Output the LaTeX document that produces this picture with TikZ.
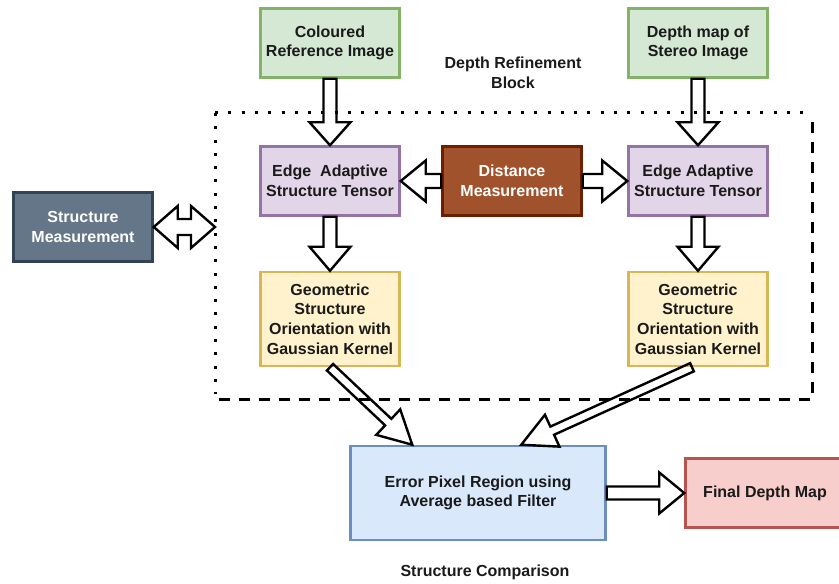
\documentclass[tikz,border=0pt]{standalone}
\usepackage{fontspec}
\setmainfont{Liberation Sans}
\usetikzlibrary{calc}

\definecolor{srcfill}{HTML}{D5E8D4}
\definecolor{srcline}{HTML}{82B366}
\definecolor{tenfill}{HTML}{E1D5E7}
\definecolor{tenline}{HTML}{9673A6}
\definecolor{orifill}{HTML}{FFF2CC}
\definecolor{oriline}{HTML}{D6B656}
\definecolor{filfill}{HTML}{DAE8FC}
\definecolor{filline}{HTML}{6C8EBF}
\definecolor{outfill}{HTML}{F8CECC}
\definecolor{outline}{HTML}{B85450}
\definecolor{disfill}{HTML}{A0522D}
\definecolor{disline}{HTML}{6D1F00}
\definecolor{slafill}{HTML}{647687}
\definecolor{slaline}{HTML}{314354}
\definecolor{textdark}{HTML}{1A1A1A}

\tikzstyle{box} = [rectangle, 
minimum width=139pt, 
minimum height=69pt, 
text centered, 
align=center, 
line width=2.5pt, 
text=textdark, 
font=\fontsize{16}{19.8}\selectfont\bfseries]
\tikzstyle{source} = [box, draw=srcline, fill=srcfill]
\tikzstyle{tensor} = [box, draw=tenline, fill=tenfill]
\tikzstyle{orient} = [box, 
minimum height=94pt, 
draw=oriline, fill=orifill]
\tikzstyle{measure} = [box, draw=disline, fill=disfill, text=white]
\tikzstyle{slate} = [box, draw=slaline, fill=slafill, text=white]
\tikzstyle{filter} = [box, 
minimum width=255pt, 
minimum height=94pt, 
draw=filline, fill=filfill]
\tikzstyle{output} = [box, 
minimum width=159pt, 
draw=outline, fill=outfill]
\tikzstyle{caption} = [align=center, text=textdark, 
font=\fontsize{16}{19.8}\selectfont\bfseries]
\tikzstyle{arrowline} = [line width=2.4pt, draw=black, line join=miter]
\tikzstyle{dotline} = [line width=3pt, dash pattern=on 3pt off 10.3pt]
\tikzstyle{dashline} = [line width=3pt, dash pattern=on 11pt off 9pt]

% hollow block arrow: from, to, shaft half width, head half width, head length
\newcommand{\blockarrow}[5]{%
  \coordinate (tipbase) at ($(#2)!#5!(#1)$);
  \draw [arrowline] ($(#1)!#3!90:(#2)$) -- ($(tipbase)!#3!90:(#2)$)
    -- ($(tipbase)!#4!90:(#2)$) -- (#2) -- ($(tipbase)!#4!-90:(#2)$)
    -- ($(tipbase)!#3!-90:(#2)$) -- ($(#1)!#3!-90:(#2)$) -- cycle;}
% hollow arrow with a head at both ends
\newcommand{\twowayarrow}[5]{%
  \coordinate (baseA) at ($(#1)!#5!(#2)$);
  \coordinate (baseB) at ($(#2)!#5!(#1)$);
  \draw [arrowline] (#1) -- ($(baseA)!#4!90:(#2)$) -- ($(baseA)!#3!90:(#2)$)
    -- ($(baseB)!#3!-90:(#1)$) -- ($(baseB)!#4!-90:(#1)$) -- (#2)
    -- ($(baseB)!#4!90:(#1)$) -- ($(baseB)!#3!90:(#1)$)
    -- ($(baseA)!#3!-90:(#2)$) -- ($(baseA)!#4!-90:(#2)$) -- cycle;}

\begin{document}
\begin{tikzpicture}[x=1pt, y=1pt, node distance=138pt]
\useasboundingbox (0,0) rectangle (839,584);

\node (edgeL) [tensor] at (330,403) {Edge~ Adaptive\\Structure Tensor};
\node (ref) [source, above of=edgeL] {Coloured\\Reference Image};
\node (geoL) [orient, below of=edgeL] {Geometric\\Structure\\Orientation with\\Gaussian Kernel};
\node (dist) [measure, right of=edgeL, xshift=44pt] {Distance\\Measurement};
\node (edgeR) [tensor, right of=dist, xshift=48pt] {Edge Adaptive\\Structure Tensor};
\node (depth) [source, above of=edgeR] {Depth map of\\Stereo Image};
\node (geoR) [orient, below of=edgeR] {Geometric\\Structure\\Orientation with\\Gaussian Kernel};
\node (error) [filter, below of=geoL, xshift=148pt, yshift=-36pt] {Error Pixel Region using\\Average based Filter};
\node (final) [output, right of=error, xshift=149pt] {Final Depth Map};
\node (struct) [slate, left of=edgeL, xshift=-109pt, yshift=-46pt] {Structure\\Measurement};

\node (blocklabel) [caption] at (513,511.5) {Depth Refinement\\Block};
\node (comparison) [caption] at (485,12) {Structure Comparison};

% refinement block frame
\coordinate (frameNW) at (215,471);
\coordinate (frameSE) at (812,184);
\draw [dotline] (frameNW) -- (805,471);
\draw [dotline] (frameNW) -- (215,190);
\draw [dashline] (812,462) -- (frameSE) -- (frameNW |- frameSE);

\blockarrow{ref.south}{edgeL.north}{6.5pt}{20.5pt}{23pt}
\blockarrow{depth.south}{edgeR.north}{6.5pt}{20.5pt}{23pt}
\blockarrow{edgeL.south}{geoL.north}{6.5pt}{20.5pt}{24pt}
\blockarrow{edgeR.south}{geoR.north}{6.5pt}{20.5pt}{24pt}
\blockarrow{dist.west}{edgeL.east}{7pt}{20.5pt}{25pt}
\blockarrow{dist.east}{edgeR.west}{7pt}{20.5pt}{25pt}
\blockarrow{error.east}{final.west}{6.5pt}{20.5pt}{25pt}

\coordinate (geoRout) at ($(geoR.south)+(-6,0)$);
\coordinate (errInL) at ($(error.north west)+(63,0)$);
\coordinate (errInR) at ($(error.north west)+(172,0)$);
\blockarrow{geoL.south}{errInL}{4.5pt}{17.5pt}{33pt}
\blockarrow{geoRout}{errInR}{4.5pt}{17.5pt}{34pt}

\twowayarrow{struct.east}{frameNW |- struct.east}{8pt}{21pt}{24pt}

\end{tikzpicture}
\end{document}
